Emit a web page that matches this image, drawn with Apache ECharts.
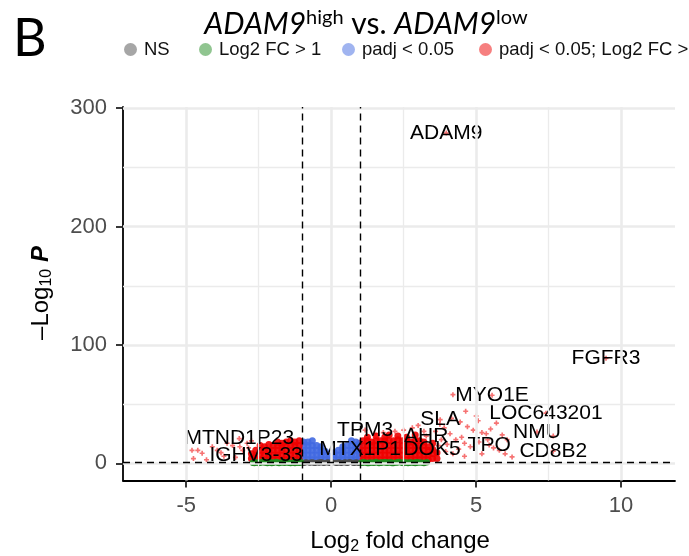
<!DOCTYPE html>
<html><head><meta charset="utf-8">
<script src="https://cdn.jsdelivr.net/npm/echarts@6/dist/echarts.min.js"></script>
<style>html,body{margin:0;padding:0;background:#fff}#c{width:689px;height:556px}</style>
</head><body><div id="c"></div>
<script>
// ---- data ----
const xTicks = [-5, 0, 5, 10];
const yTicks = [0, 100, 200, 300];
const xMinorGrid = [-2.5, 2.5, 7.5];
const yMinorGrid = [50, 150, 250];
const fcCutoff = [-1, 1];
const pCutoffLine = 1.3;

const nsPoints = [[-0.95,0.3],[-0.85,0.9],[-0.75,0.4],[-0.65,1.0],[-0.55,0.2],[-0.45,0.7],[-0.35,1.1],[-0.25,0.3],[-0.15,0.8],[-0.05,0.2],[0.05,0.9],[0.15,0.4],[0.25,1.0],[0.35,0.3],[0.45,0.8],[0.55,0.2],[0.65,1.1],[0.75,0.5],[0.85,0.9],[0.95,0.3],[-0.9,0.6],[-0.6,0.5],[-0.3,0.6],[0,0.5],[0.3,0.6],[0.6,0.6],[0.9,0.7],[-0.7,0.8],[-0.4,0.4],[-0.1,1.0],[0.2,0.2],[0.5,1.0],[0.8,0.3]];

const fcPoints = [[-2.7,0.5],[-2.6,0.9],[-2.5,0.3],[-2.4,1.0],[-2.3,0.6],[-2.2,0.2],[-2.1,0.9],[-2.0,0.5],[-1.9,1.1],[-1.8,0.3],[-1.7,0.8],[-1.6,0.4],[-1.5,1.0],[-1.4,0.2],[-1.3,0.7],[-1.2,1.1],[-1.1,0.4],[-1.05,0.9],
[-2.65,0.2],[-2.45,0.7],[-2.25,1.1],[-2.05,0.2],[-1.85,0.7],[-1.65,1.1],[-1.45,0.5],[-1.25,0.3],[-1.15,0.8],
[1.05,0.4],[1.15,1.0],[1.25,0.3],[1.35,0.8],[1.45,0.5],[1.55,1.1],[1.65,0.2],[1.75,0.7],[1.85,1.0],[1.95,0.4],[2.05,0.9],[2.15,0.3],[2.25,0.7],[2.35,1.1],[2.45,0.5],[2.55,0.9],[2.65,0.3],[2.75,0.8],[2.85,0.5],[2.95,1.0],[3.1,0.6],[3.3,0.9],
[1.1,0.7],[1.3,0.2],[1.5,0.8],[1.7,0.4],[1.9,0.7],[2.1,0.2],[2.3,0.9],[2.5,0.2],[2.7,0.6],[2.9,0.2],[3.0,0.8],[3.2,0.3]];

const padjPoints = [
[-0.95,3],[-0.95,7],[-0.95,11],[-0.95,15],[-0.95,18],
[-0.8,3],[-0.8,7],[-0.8,11],[-0.8,15],[-0.8,18],
[-0.65,3],[-0.65,7],[-0.65,11],[-0.65,15],[-0.65,19],
[-0.5,3],[-0.5,7],[-0.5,11],[-0.5,15],
[-0.35,3],[-0.35,7],[-0.35,11],[-0.35,14],
[-0.2,3],[-0.2,7],[-0.2,10],
[-0.05,3],[-0.05,6],
[0.1,3],[0.1,7],[0.1,9],
[0.25,3],[0.25,7],[0.25,11],
[0.4,3],[0.4,7],[0.4,11],[0.4,14],
[0.55,3],[0.55,7],[0.55,11],[0.55,15],
[0.7,3],[0.7,7],[0.7,11],[0.7,15],[0.7,19],
[0.85,3],[0.85,7],[0.85,11],[0.85,15],[0.85,18],
[0.97,3],[0.97,7],[0.97,11],[0.97,15],[0.97,17]];

const bothDenseLeft = [
[-1.1,3],[-1.1,7],[-1.1,11],[-1.1,15],[-1.1,19],
[-1.25,3],[-1.25,7],[-1.25,11],[-1.25,15],[-1.25,18],
[-1.4,3],[-1.4,7],[-1.4,11],[-1.4,15],[-1.4,19],
[-1.55,3],[-1.55,7],[-1.55,11],[-1.55,15],[-1.55,18],
[-1.7,3],[-1.7,7],[-1.7,11],[-1.7,15],[-1.7,17],
[-1.85,3],[-1.85,7],[-1.85,11],[-1.85,15],[-1.85,18],
[-2.0,3],[-2.0,7],[-2.0,11],[-2.0,15],
[-2.15,3],[-2.15,7],[-2.15,11],[-2.15,16],
[-2.3,3],[-2.3,7],[-2.3,11],[-2.3,14],
[-2.45,3],[-2.45,7],[-2.45,11],[-2.45,15],
[-2.6,3],[-2.6,7],[-2.6,11],
[-2.75,4],[-2.75,8]];

const bothDenseRight = [
[1.1,3],[1.1,7],[1.1,11],[1.1,15],[1.1,19],
[1.25,3],[1.25,7],[1.25,11],[1.25,15],[1.25,19],[1.25,22],
[1.4,3],[1.4,7],[1.4,11],[1.4,15],[1.4,18],
[1.55,3],[1.55,7],[1.55,11],[1.55,15],[1.55,19],[1.55,23],
[1.7,3],[1.7,7],[1.7,11],[1.7,15],[1.7,19],
[1.85,3],[1.85,7],[1.85,11],[1.85,15],[1.85,19],[1.85,22],
[2.0,3],[2.0,7],[2.0,11],[2.0,15],[2.0,19],[2.0,24],
[2.15,3],[2.15,7],[2.15,11],[2.15,15],[2.15,19],
[2.3,3],[2.3,7],[2.3,11],[2.3,15],[2.3,20],[2.3,23],
[2.45,3],[2.45,7],[2.45,11],[2.45,15],[2.45,19],
[2.6,3],[2.6,7],[2.6,11],[2.6,15],[2.6,19],[2.6,22],
[2.75,3],[2.75,7],[2.75,11],[2.75,15],[2.75,18],
[2.9,3],[2.9,7],[2.9,11],[2.9,15],[2.9,19],[2.9,24],
[3.05,3],[3.05,7],[3.05,11],[3.05,15],[3.05,19],
[3.2,3],[3.2,7],[3.2,11],[3.2,15],[3.2,18],
[3.35,3],[3.35,7],[3.35,11],[3.35,14],
[3.5,4],[3.5,8],[3.5,12],[3.5,17],
[3.65,4],[3.65,9]];

const bothScattered = [[4.2,58],[4.64,44],[5.0,40],[5.07,36],[4.7,31],[5.7,34],[5.5,29],[4.9,28],[5.2,26],[5.35,25],[6.07,20],[6.24,5.4],[7.66,23],[5.2,8],[4.6,17],[5.6,13],[5.8,11],[4.4,12],[3.9,30],[4.1,25],[3.8,20],[4.3,20],[4.5,22],[3.7,15],[4.0,16],[4.8,14],[5.1,18],[5.4,20],[4.2,8],[4.6,6],[3.95,10],[5.9,24],[6.0,8],[4.45,35],[3.6,27],[3.75,33],[4.15,38],[2.8,30],[3.2,27],[2.5,28],[2.2,27],[1.8,26],[1.5,25],[3.0,32],
[-4.8,11],[-4.6,11],[-4.45,8.5],[-4.75,4],[-3.93,11],[-3.59,17],[-3.4,15],[-3.15,14],[-3.05,11],[-4.3,3],[-3.7,6],[-3.3,5],[-2.9,17],[-2.85,13],[-4.1,14],[-3.8,9],[-2.75,19]];

const geneNames = ['ADAM9','FGFR3','MYO1E','LOC643201','NMU','CD8B2','TPO','SLA','AHR','DOK5','MTX1P1','TPM3','MTND1P23','IGHV3-33'];
const geneLog2FC = [3.97, 9.48, 5.55, 7.41, 7.10, 7.66, 5.45, 3.76, 3.28, 3.48, 1.0, 1.17, -3.17, -2.59];
const geneNegLogP = [279, 88.7, 57.5, 42.4, 26.4, 10.3, 15.4, 36.9, 23.0, 12.0, 12.0, 28.1, 20.9, 7.0];

// ---- chart ----
const FONT = '"Liberation Sans", Arial, sans-serif';
const plusSym = 'path://M1,0H2V1H3V2H2V3H1V2H0V1H1Z';
const legendNames = ['NS', 'Log2 FC > 1', 'padj < 0.05', 'padj < 0.05; Log2 FC > 1'];
const legendColors = ['#4D4D4D', '#228B22', '#4169E1', '#EE0000'];
const legendLefts = [124, 199, 342, 479];
const colNS = legendColors[0], colFC = legendColors[1], colP = legendColors[2], colBoth = legendColors[3];

const gridMarks = [];
xTicks.forEach(v => gridMarks.push({xAxis: v, lineStyle: {width: 2.6}}));
xMinorGrid.forEach(v => gridMarks.push({xAxis: v, lineStyle: {width: 1.3}}));
yTicks.forEach(v => gridMarks.push({yAxis: v, lineStyle: {width: 2.6}}));
yMinorGrid.forEach(v => gridMarks.push({yAxis: v, lineStyle: {width: 1.3}}));

const legends = legendNames.map((n, i) => ({
  left: legendLefts[i], top: 40, width: 400, padding: 0, itemWidth: 13, itemHeight: 13, icon: 'circle',
  textStyle: {fontSize: 18.5, color: '#111', fontFamily: FONT, padding: [0, 0, 0, 2]},
  data: [{name: n, itemStyle: {color: legendColors[i], opacity: 0.5}}]
}));

const chart = echarts.init(document.getElementById('c'), null, {renderer: 'canvas'});
chart.setOption({
  animation: false,
  backgroundColor: '#fff',
  grid: {left: 123, top: 107, right: 14, bottom: 75.5},
  xAxis: {
    type: 'value', min: -7.18, max: 11.86,
    axisLine: {onZero: false, lineStyle: {color: '#000', width: 1.8}},
    axisTick: {customValues: xTicks, length: 7, lineStyle: {color: '#222', width: 1.8}},
    axisLabel: {customValues: xTicks, fontSize: 22, color: '#4D4D4D', margin: 14, fontFamily: FONT},
    splitLine: {show: false}
  },
  yAxis: {
    type: 'value', min: -14.5, max: 301,
    axisLine: {onZero: false, lineStyle: {color: '#000', width: 1.8}},
    axisTick: {customValues: yTicks, length: 7, lineStyle: {color: '#222', width: 1.8}},
    axisLabel: {customValues: yTicks, fontSize: 22, color: '#4D4D4D', margin: 16, fontFamily: FONT},
    splitLine: {show: false}
  },
  legend: legends,
  graphic: [
    {type: 'text', left: 13, top: 13, style: {text: 'B', font: '52px Lato, "Open Sans", sans-serif', fill: '#000'}},
    {type: 'text', x: 366, y: 24, style: {
      text: '{i|ADAM9}{s|high}{n| vs. }{i|ADAM9}{s|low}', align: 'center', verticalAlign: 'middle',
      rich: {
        i: {font: 'italic 30px Lato, "Open Sans", sans-serif', fill: '#000', lineHeight: 33},
        n: {font: '30px Lato, "Open Sans", sans-serif', fill: '#000', lineHeight: 33},
        s: {font: '20px Lato, "Open Sans", sans-serif', fill: '#000', lineHeight: 20, verticalAlign: 'top'}
      }}},
    {type: 'text', x: 400, y: 541, style: {
      text: '{m|Log}{s|2}{m| fold change}', align: 'center', verticalAlign: 'middle',
      rich: {
        m: {fontSize: 24, fontFamily: FONT, fill: '#000', lineHeight: 28},
        s: {fontSize: 16, fontFamily: FONT, fill: '#000', lineHeight: 16, verticalAlign: 'bottom'}
      }}},
    {type: 'text', x: 41, y: 293, rotation: Math.PI / 2, style: {
      text: '{m|\u2013Log}{s|10}{p| P}', align: 'center', verticalAlign: 'middle',
      rich: {
        m: {fontSize: 24, fontFamily: FONT, fill: '#000', lineHeight: 28},
        s: {fontSize: 16, fontFamily: FONT, fill: '#000', lineHeight: 16, verticalAlign: 'bottom'},
        p: {fontSize: 24, fontFamily: FONT, fontStyle: 'italic', fontWeight: 'bold', fill: '#000', lineHeight: 28}
      }}}
  ],
  series: [
    {type: 'scatter', name: 'gridlines', data: [], z: 0, silent: true,
     markLine: {silent: true, symbol: 'none', label: {show: false}, animation: false,
       lineStyle: {color: '#EBEBEB', type: 'solid'}, data: gridMarks}},
    {type: 'scatter', name: legendNames[2], data: padjPoints, symbolSize: 7, itemStyle: {color: colP, opacity: 0.9}, z: 2},
    {type: 'scatter', name: legendNames[3], data: bothDenseLeft, symbolSize: 7, itemStyle: {color: colBoth, opacity: 0.9}, z: 2},
    {type: 'scatter', name: legendNames[3], data: bothDenseRight, symbolSize: 7, itemStyle: {color: colBoth, opacity: 0.9}, z: 2},
    {type: 'scatter', name: legendNames[0], data: nsPoints, symbolSize: 6, itemStyle: {color: colNS, opacity: 1}, z: 3},
    {type: 'scatter', name: legendNames[1], data: fcPoints, symbolSize: 6.5, itemStyle: {color: colFC, opacity: 1}, z: 3},
    {type: 'scatter', name: legendNames[3], data: bothScattered, symbol: plusSym, symbolSize: 5, itemStyle: {color: colBoth, opacity: 0.55}, z: 3},
    {type: 'scatter', name: legendNames[3], symbol: plusSym, symbolSize: 5, itemStyle: {color: 'rgba(238,0,0,0.55)', opacity: 1}, z: 4,
     data: geneNames.map((n, i) => ({name: n, value: [geneLog2FC[i], geneNegLogP[i]]})),
     label: {show: true, position: 'inside', formatter: '{b}', color: '#000', opacity: 1, textBorderWidth: 0, fontSize: 21, fontFamily: FONT}},
    {type: 'scatter', name: 'cutoffs', data: [], z: 5, silent: true,
     markLine: {silent: true, symbol: 'none', label: {show: false}, animation: false,
       lineStyle: {color: '#000', type: [7, 5], width: 1.4},
       data: [{xAxis: fcCutoff[0]}, {xAxis: fcCutoff[1]}, {yAxis: pCutoffLine}]}}
  ]
});
</script></body></html>
